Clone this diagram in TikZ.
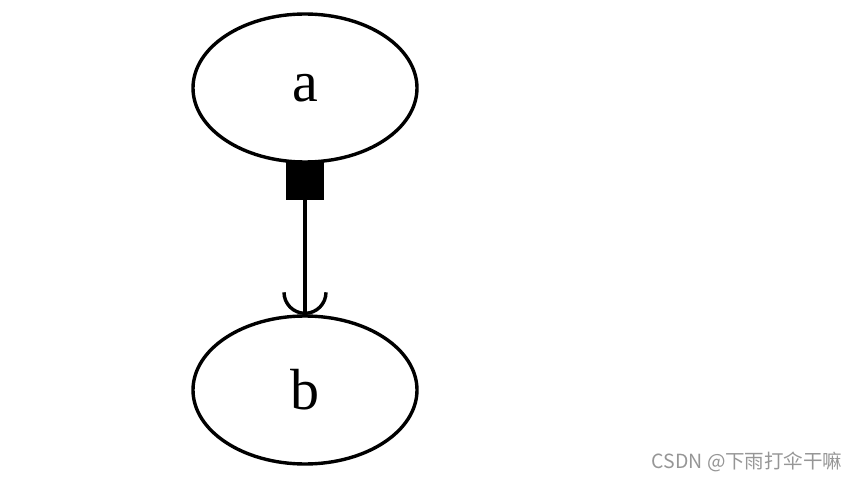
\documentclass[tikz,border=0pt]{standalone}
\usepackage{fontspec}
\setmainfont{Liberation Serif}
\newfontfamily\cjk{Noto Sans CJK SC}
\usetikzlibrary{shapes.geometric,calc}
\definecolor{wm}{RGB}{150,150,150}
\tikzset{
  gnode/.style={ellipse,draw=black,line width=3.4pt,minimum width=224pt,minimum height=148pt,inner sep=0pt,font=\fontsize{58}{58}\selectfont},
  gedge/.style={line width=3.4pt,draw=black},
}
\begin{document}
\begin{tikzpicture}[x=1pt,y=1pt]
\useasboundingbox (0,0) rectangle (862,-481);
\node[gnode] (a) at (305,-88) {a};
\node[gnode] (b) at (305,-390) {b};
\draw[gedge] (a.south) -- (b.north);
\fill[black] ($(a.south)+(-19,2)$) rectangle ($(a.south)+(19,-36)$);
\draw[gedge] ($(b.north)+(-21,22)$) arc[start angle=180,end angle=360,radius=21];
\node[text=wm,font=\cjk\fontsize{19.5}{19.5}\selectfont,anchor=east] (wmk) at (846,-462) {CSDN @下雨打伞干嘛};
\end{tikzpicture}
\end{document}
